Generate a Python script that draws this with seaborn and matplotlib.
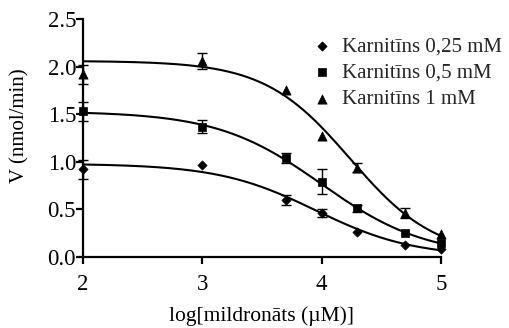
import numpy as np
import pandas as pd
import matplotlib
matplotlib.use("Agg")
import matplotlib.pyplot as plt
import seaborn as sns

# log10 of mildronate concentration (µM)
log_mildronate = [2.0, 3.0, 3.7, 4.0, 4.3, 4.7, 5.0]

# reaction rate V (nmol/min) at three carnitine concentrations
v_carn_025 = [0.92, 0.97, 0.60, 0.46, 0.265, 0.125, 0.08]
v_carn_05 = [1.53, 1.37, 1.04, 0.79, 0.51, 0.25, 0.15]
v_carn_1 = [1.92, 2.06, 1.75, 1.27, 0.94, 0.46, 0.24]

# standard errors (0 = no bar shown)
err_carn_025 = [0.10, 0.0, 0.05, 0.04, 0.0, 0.0, 0.0]
err_carn_05 = [0.10, 0.07, 0.05, 0.13, 0.04, 0.0, 0.0]
err_carn_1 = [0.10, 0.08, 0.0, 0.0, 0.05, 0.05, 0.0]

# sigmoidal dose-response fit parameters per series (bottom = 0)
fit_top = [0.98, 1.53, 2.06]
fit_log_ic50 = [3.95, 4.00, 4.24]
fit_hill = [1.06, 0.99, 1.21]

series_labels = ["Karnitīns 0,25 mM", "Karnitīns 0,5 mM", "Karnitīns 1 mM"]
x_ticks = [2, 3, 4, 5]
y_ticks = [0.0, 0.5, 1.0, 1.5, 2.0, 2.5]


def dose_response(xx, top, log_ic50, hill):
    return top / (1.0 + 10 ** ((xx - log_ic50) * hill))


sns.set_theme(style="ticks")
plt.rcParams["font.family"] = ["Liberation Serif", "DejaVu Serif"]

fig = plt.figure(figsize=(5.10, 3.28), dpi=100)
ax = fig.add_axes([83 / 510, 1 - 257 / 328, (441 - 83) / 510, (257 - 19) / 328])

values = [v_carn_025, v_carn_05, v_carn_1]
errors = [err_carn_025, err_carn_05, err_carn_1]
markers = ["D", "s", "^"]
msizes = [22, 36, 44]

xs = np.linspace(2, 5, 300)
for i, (vals, errs, lab, mk, ms) in enumerate(zip(values, errors, series_labels,
                                                   markers, msizes)):
    ys = dose_response(xs, fit_top[i], fit_log_ic50[i], fit_hill[i])
    sns.lineplot(x=xs, y=ys, ax=ax, color="black", linewidth=1.5,
                 legend=False, clip_on=False)
    df = pd.DataFrame({"x": log_mildronate, "y": vals, "e": errs})
    de = df[df["e"] > 0]
    ax.errorbar(de["x"], de["y"], yerr=de["e"], fmt="none", ecolor="black",
                elinewidth=1.0, capsize=3.5, capthick=1.0, clip_on=False, zorder=3)
    sns.scatterplot(data=df, x="x", y="y", ax=ax, marker=mk, s=ms, color="black",
                    edgecolor="black", linewidth=0.5, label=lab, clip_on=False,
                    zorder=4)

ax.set_xlim(2, 5)
ax.set_ylim(0, 2.5)
ax.set_xticks(x_ticks)
ax.set_yticks(y_ticks)
ax.set_xticklabels([str(t) for t in x_ticks])
ax.set_yticklabels([f"{t:.1f}" for t in y_ticks])
for s in ["top", "right"]:
    ax.spines[s].set_visible(False)
for s in ["left", "bottom"]:
    ax.spines[s].set_linewidth(1.6)
    ax.spines[s].set_color("black")
ax.tick_params(axis="both", direction="out", length=5, width=1.6, colors="black",
               labelsize=16.5)
ax.tick_params(axis="y", pad=0)
ax.tick_params(axis="x", pad=7)
ax.set_xlabel("log[mildronāts (µM)]", fontsize=15.5, color="black")
ax.set_ylabel("V (nmol/min)", fontsize=15, color="black")
ax.xaxis.set_label_coords(0.5, -0.248)
ax.xaxis.label.set_va("center")
ax.yaxis.set_label_coords(-0.176, 0.55)
ax.yaxis.label.set_va("center")

leg = ax.legend(loc="upper left", bbox_to_anchor=(0.6385, 0.923), frameon=False,
                fontsize=15, handletextpad=0.46, labelspacing=0.31,
                handlelength=1.0, borderaxespad=0.0, borderpad=0.0)

fig.savefig("out.png", dpi=100)
